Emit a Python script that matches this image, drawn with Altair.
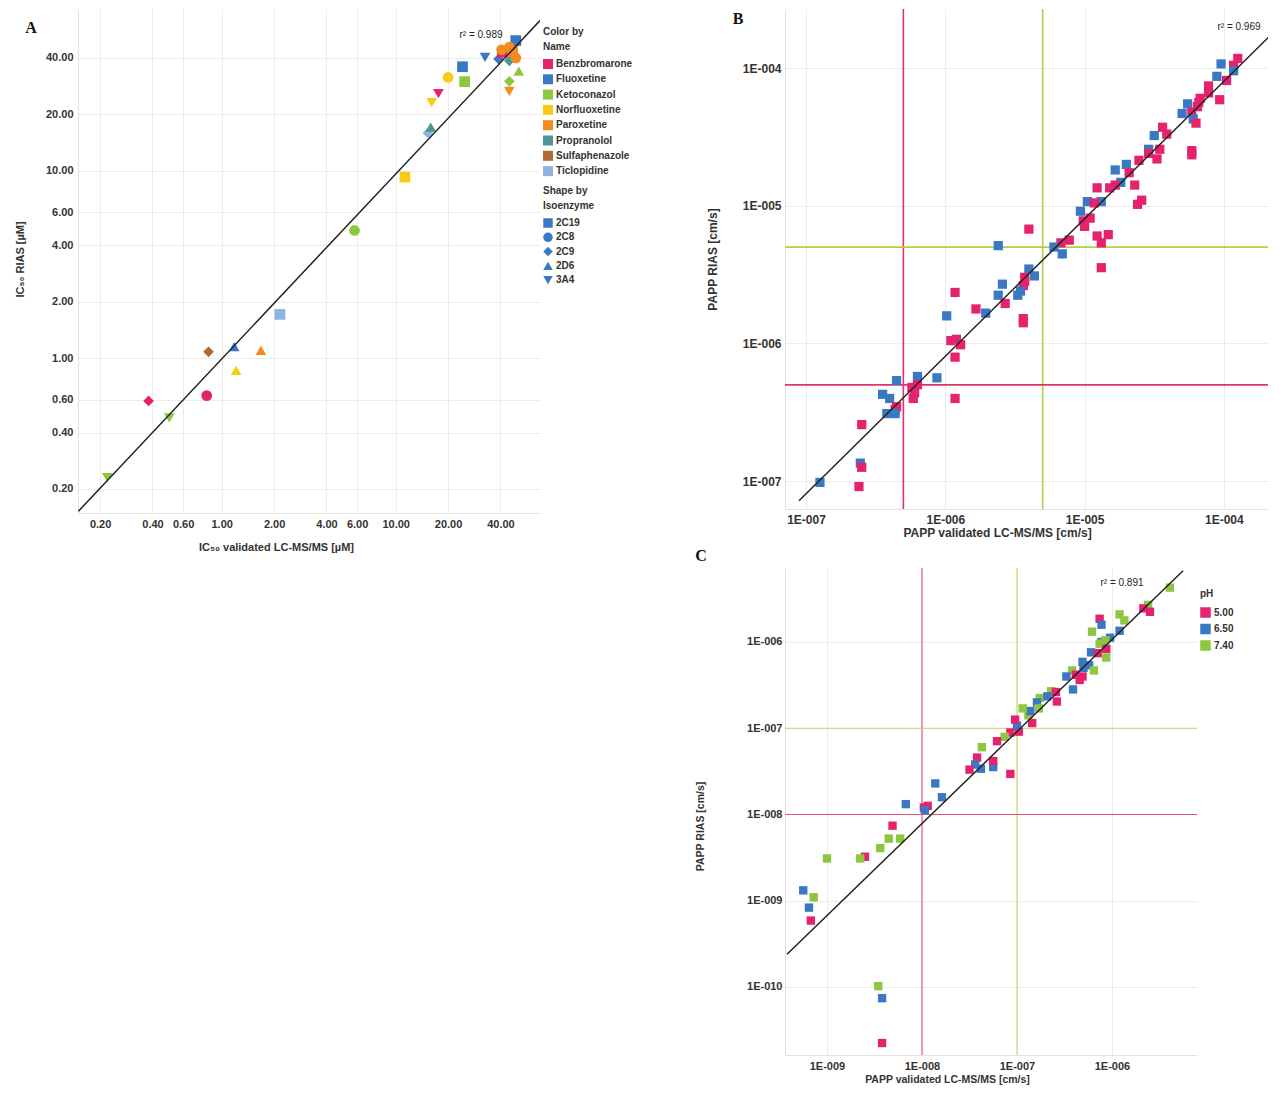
import altair as alt
import pandas as pd

FONT = "Liberation Sans"
SERIF = "Liberation Serif"
TXT = "#333333"
GRID = "#ececec"
DOMAIN_COLOR = "#e2e2e2"
PINK, BLUE, GREEN = "#e5226e", "#3a78c4", "#8dc63f"

# ---------------- Panel A : IC50 ----------------
a_names = ["Benzbromarone", "Fluoxetine", "Ketoconazol", "Norfluoxetine",
           "Paroxetine", "Propranolol", "Sulfaphenazole", "Ticlopidine"]
a_name_colors = ["#e5226e", "#3a78c4", "#8dc63f", "#f8cc16",
                 "#f58a1f", "#4e9494", "#b06a35", "#8db4e2"]
a_isoenzymes = ["2C19", "2C8", "2C9", "2D6", "3A4"]
a_iso_shapes = ["square", "circle", "diamond", "triangle-up", "triangle-down"]

a_name = ["Ketoconazol", "Benzbromarone", "Ketoconazol", "Benzbromarone", "Sulfaphenazole",
          "Fluoxetine", "Norfluoxetine", "Paroxetine", "Ticlopidine", "Ketoconazol",
          "Norfluoxetine", "Ticlopidine", "Propranolol", "Norfluoxetine", "Benzbromarone",
          "Norfluoxetine", "Fluoxetine", "Ketoconazol", "Fluoxetine", "Fluoxetine",
          "Fluoxetine", "Propranolol", "Benzbromarone", "Paroxetine", "Paroxetine",
          "Paroxetine", "Paroxetine", "Ketoconazol", "Ketoconazol", "Paroxetine"]
a_iso = ["3A4", "2C9", "3A4", "2C8", "2C9",
         "2D6", "2D6", "2D6", "2C19", "2C8",
         "2C19", "2C9", "2D6", "3A4", "3A4",
         "2C8", "2C19", "2C19", "3A4", "2C9",
         "2C19", "2C9", "2C19", "2C8", "2C8",
         "2C19", "2C8", "2D6", "2C9", "3A4"]
a_lcms = [0.22, 0.38, 0.50, 0.82, 0.84, 1.18, 1.21, 1.68, 2.16, 5.8,
          11.3, 15.3, 15.9, 16.1, 17.6, 20.0, 24.2, 24.9, 32.6, 39.0,
          49.0, 45.0, 41.0, 40.6, 45.0, 47.0, 49.0, 51.0, 45.0, 45.0]
a_rias = [0.23, 0.59, 0.48, 0.63, 1.08, 1.15, 0.86, 1.10, 1.71, 4.8,
          9.25, 15.9, 17.1, 23.1, 25.8, 31.5, 35.9, 29.9, 40.3, 39.5,
          49.5, 38.6, 42.9, 44.2, 45.7, 43.5, 40.0, 34.0, 30.0, 26.5]
a_ticks = [0.2, 0.4, 0.6, 1, 2, 4, 6, 10, 20, 40]
a_fit_lcms = [0.15, 67.5]
a_fit_rias = [0.152, 63.3]
a_r2 = "r² = 0.989"

# ---------------- Panel B : PAPP ----------------
b_log_lcms = [-3.90, -3.93, -4.02, -4.05, -3.93, -3.98, -4.11, -4.11, -4.03, -4.17,
              -4.19, -4.26, -4.30, -4.23, -4.18, -4.22, -4.20, -4.23, -4.23, -4.44,
              -4.41, -4.50, -4.54, -4.54, -4.46, -4.48, -4.61, -4.70, -4.78, -4.68,
              -4.64, -4.74, -4.78, -4.82, -4.91, -4.62, -4.59, -4.88, -4.98, -4.93,
              -5.03, -5.01, -4.96, -5.00, -4.91, -4.83, -4.88, -4.88, -5.11, -5.17,
              -5.22, -5.16, -5.62, -5.40, -5.40, -5.36, -5.43, -5.43, -5.44, -5.59,
              -5.62, -5.48, -5.46, -5.57, -5.93, -5.78, -5.71, -5.99, -5.44, -5.44,
              -5.96, -5.92, -5.89, -5.93, -5.93, -6.20, -6.06, -6.35, -6.24, -6.20,
              -6.22, -6.23, -6.45, -6.40, -6.35, -6.36, -6.42, -6.36, -6.60, -6.61,
              -6.60, -6.62, -6.90]
b_log_rias = [-3.93, -3.98, -3.97, -4.06, -4.02, -4.09, -4.13, -4.18, -4.23, -4.22,
              -4.28, -4.26, -4.33, -4.32, -4.25, -4.37, -4.40, -4.63, -4.60, -4.43,
              -4.48, -4.49, -4.59, -4.62, -4.59, -4.66, -4.67, -4.70, -4.74, -4.76,
              -4.85, -4.83, -4.85, -4.87, -4.87, -4.99, -4.96, -4.97, -4.97, -4.98,
              -5.04, -5.11, -5.09, -5.15, -5.22, -5.21, -5.27, -5.45, -5.25, -5.27,
              -5.30, -5.35, -5.29, -5.17, -5.46, -5.51, -5.52, -5.55, -5.58, -5.57,
              -5.65, -5.65, -5.62, -5.71, -5.63, -5.75, -5.78, -5.80, -5.82, -5.85,
              -5.98, -5.97, -6.01, -6.10, -6.40, -6.24, -6.25, -6.27, -6.32, -6.30,
              -6.36, -6.40, -6.37, -6.40, -6.46, -6.48, -6.51, -6.51, -6.59, -6.87,
              -6.90, -7.04, -7.01]
b_group_codes = ("ppbbbppppp" "pbbppbpppp" "pbbppppbbp" "pbpppppbbp" "bppppppppp"
                 "bbbpbbpppb" "bbbpppbbpp" "pppppbbbpp" "ppbbppbbpb" "ppb")
b_group_names = {"p": "5.00", "b": "6.50"}
b_ticks = [1e-7, 1e-6, 1e-5, 1e-4]
b_thr_pink = [5e-7]
b_thr_green = [5e-6]
b_fit_lcms = [8.9e-8, 2.5e-4]
b_fit_rias = [7.2e-8, 2.0e-4]
b_r2 = "r² = 0.969"

# ---------------- Panel C : PAPP by pH ----------------
c_log_lcms = [-5.39, -5.62, -5.67, -5.60, -5.92, -5.87, -6.13, -6.11, -6.21, -5.92,
              -6.02, -6.11, -6.13, -6.07, -6.06, -6.22, -6.15, -6.06, -6.31, -6.24,
              -6.30, -6.19, -6.42, -6.48, -6.38, -6.31, -6.34, -6.41, -6.64, -6.59,
              -6.76, -6.68, -6.58, -6.79, -6.77, -6.88, -6.86, -6.94, -6.84, -6.98,
              -7.00, -7.02, -7.07, -7.13, -7.21, -7.37, -7.42, -7.44, -7.38, -7.50,
              -7.25, -7.25, -7.07, -7.86, -7.79, -8.17, -7.98, -7.94, -7.97, -8.31,
              -8.35, -8.44, -8.23, -8.60, -8.65, -9.00, -9.25, -9.14, -9.19, -9.17,
              -8.46, -8.42, -8.42]
c_log_rias = [-5.37, -5.57, -5.61, -5.65, -5.68, -5.75, -5.73, -5.80, -5.88, -5.87,
              -5.95, -6.00, -6.02, -5.98, -6.08, -6.12, -6.13, -6.18, -6.23, -6.27,
              -6.30, -6.33, -6.33, -6.40, -6.38, -6.40, -6.44, -6.55, -6.57, -6.58,
              -6.65, -6.63, -6.69, -6.70, -6.77, -6.85, -6.80, -6.77, -6.94, -7.04,
              -6.97, -6.90, -7.05, -7.10, -7.15, -7.22, -7.34, -7.42, -7.47, -7.48,
              -7.45, -7.38, -7.53, -7.64, -7.80, -7.88, -7.92, -7.90, -7.95, -8.13,
              -8.28, -8.39, -8.28, -8.49, -8.51, -8.51, -8.88, -8.96, -9.08, -9.23,
              -9.99, -10.13, -10.65]
c_ph_codes = ("ggppggpbgb" "bbggpbpgbb" "bggbpppbgp" "gbpbggbgpp" "bppgpgpbbp"
              "bppbbbppbp" "gggpggbgbp" "gbp")
c_ph_names = {"p": "5.00", "b": "6.50", "g": "7.40"}
c_ph_levels = ["5.00", "6.50", "7.40"]
c_ph_colors = [PINK, BLUE, GREEN]
c_x_ticks = [1e-9, 1e-8, 1e-7, 1e-6]
c_y_ticks = [1e-10, 1e-9, 1e-8, 1e-7, 1e-6]
c_thr_pink = [1e-8]
c_thr_green = [1e-7]
c_fit_lcms = [3.8e-10, 5.6e-6]
c_fit_rias = [2.4e-10, 6.7e-6]
c_r2 = "r² = 0.891"

LOG_LABEL = "'1E-' + format(-round(log(datum.value) / LN10), '03d')"


def axis(title, values, lsize, tsize, tx, ty, pad=5, fmt=None, expr=None):
    kw = dict(title=title, values=values, grid=True, gridColor=GRID, gridWidth=1,
              ticks=False, domain=True, domainColor=DOMAIN_COLOR,
              labelFont=FONT, labelFontSize=lsize, labelFontWeight="bold",
              labelColor=TXT, labelPadding=pad, labelFlush=False, labelOverlap=False,
              titleFont=FONT, titleFontSize=tsize, titleFontWeight="bold",
              titleColor=TXT, titleX=tx, titleY=ty, titleBaseline="middle",
              titleAlign="center")
    if fmt:
        kw["format"] = fmt
    if expr:
        kw["labelExpr"] = expr
    return alt.Axis(**kw)


def text_layer(txt, x, y, font=FONT, size=10, weight="normal", color="#222222"):
    return alt.Chart(pd.DataFrame({"t": [txt]})).mark_text(
        font=font, fontSize=size, fontWeight=weight, color=color,
        align="center", baseline="middle").encode(
        x=alt.value(x), y=alt.value(y), text="t:N")


def vrule(vals, color, w, xenc):
    return alt.Chart(pd.DataFrame({"lcms": vals})).mark_rule(
        color=color, strokeWidth=w).encode(x=xenc)


def hrule(vals, color, w, yenc):
    return alt.Chart(pd.DataFrame({"rias": vals})).mark_rule(
        color=color, strokeWidth=w).encode(y=yenc)


def fit_layer(xs, ys, xenc, yenc):
    return alt.Chart(pd.DataFrame({"lcms": xs, "rias": ys})).mark_line(
        color="#222222", strokeWidth=1.5, clip=True).encode(x=xenc, y=yenc)


legend_common = dict(labelFont=FONT, labelFontSize=10, labelFontWeight="bold",
                     labelColor=TXT, labelOffset=3, titleFont=FONT, titleFontSize=10,
                     titleFontWeight="bold", titleColor=TXT, titleLineHeight=15,
                     symbolStrokeWidth=0, padding=0, orient="none")

# ---------- Panel A chart ----------
dfA = pd.DataFrame({"lcms": a_lcms, "rias": a_rias, "Name": a_name, "Isoenzyme": a_iso})
xA = alt.X("lcms:Q", scale=alt.Scale(type="log", domain=[0.1493, 67.5], nice=False),
           axis=axis("IC₅₀ validated LC-MS/MS [µM]", a_ticks, 11, 11, 198, 34, fmt=".2f"))
yA = alt.Y("rias:Q", scale=alt.Scale(type="log", domain=[0.1489, 73.0], nice=False),
           axis=axis("IC₅₀ RIAS [µM]", a_ticks, 11, 11, -58, 250, fmt=".2f"))

pointsA = alt.Chart(dfA).mark_point(filled=True, size=115, opacity=1, color=BLUE).encode(
    x=xA, y=yA,
    color=alt.Color("Name:N", scale=alt.Scale(domain=a_names, range=a_name_colors),
                    legend=alt.Legend(title=["Color by", "Name"], symbolType="square",
                                      symbolSize=100, rowPadding=5.3, titlePadding=7,
                                      legendX=465, legendY=18, **legend_common)),
    shape=alt.Shape("Isoenzyme:N", scale=alt.Scale(domain=a_isoenzymes, range=a_iso_shapes),
                    legend=alt.Legend(title=["Shape by", "Isoenzyme"], symbolSize=90,
                                      symbolFillColor=BLUE, rowPadding=4.3, titlePadding=7,
                                      legendX=465, legendY=177, **legend_common)),
)
panelA = alt.layer(
    pointsA,
    fit_layer(a_fit_lcms, a_fit_rias, xA, yA),
    text_layer(a_r2, 403, 26),
    text_layer("A", -47, 19, font=SERIF, size=16, weight="bold", color="#111111"),
).properties(width=462, height=504)

# ---------- Panel B chart ----------
dfB = pd.DataFrame({"lcms": [10 ** v for v in b_log_lcms],
                    "rias": [10 ** v for v in b_log_rias],
                    "grp": [b_group_names[c] for c in b_group_codes]})
xB = alt.X("lcms:Q", scale=alt.Scale(type="log", domain=[10 ** -7.151, 10 ** -3.683], nice=False),
           axis=axis("PAPP validated LC-MS/MS [cm/s]", b_ticks, 12, 12, 212, 23, expr=LOG_LABEL))
yB = alt.Y("rias:Q", scale=alt.Scale(type="log", domain=[10 ** -7.203, 10 ** -3.571], nice=False),
           axis=axis("PAPP RIAS [cm/s]", b_ticks, 12, 12, -73, 250, pad=4, expr=LOG_LABEL))
pointsB = alt.Chart(dfB).mark_square(size=85, opacity=1).encode(
    x=xB, y=yB,
    color=alt.Color("grp:N", scale=alt.Scale(domain=["5.00", "6.50"], range=[PINK, BLUE]),
                    legend=None))
panelB = alt.layer(
    vrule(b_thr_pink, "#e0336b", 1.6, xB),
    vrule(b_thr_green, "#b8cf45", 1.6, xB),
    hrule(b_thr_green, "#b8cf45", 1.6, yB),
    hrule(b_thr_pink, "#e0336b", 1.6, yB),
    pointsB,
    fit_layer(b_fit_lcms, b_fit_rias, xB, yB),
    text_layer(b_r2, 454, 18),
    text_layer("B", -47, 10, font=SERIF, size=16, weight="bold", color="#111111"),
).properties(width=483, height=500)

# ---------- Panel C chart ----------
dfC = pd.DataFrame({"lcms": [10 ** v for v in c_log_lcms],
                    "rias": [10 ** v for v in c_log_rias],
                    "pH": [c_ph_names[c] for c in c_ph_codes]})
xC = alt.X("lcms:Q", scale=alt.Scale(type="log", domain=[10 ** -9.442, 10 ** -5.105], nice=False),
           axis=axis("PAPP validated LC-MS/MS [cm/s]", c_x_ticks, 11, 10.5, 162, 24, expr=LOG_LABEL))
yC = alt.Y("rias:Q", scale=alt.Scale(type="log", domain=[10 ** -10.789, 10 ** -5.142], nice=False),
           axis=axis("PAPP RIAS [cm/s]", c_y_ticks, 11, 10.5, -85, 258, pad=3, expr=LOG_LABEL))
pointsC = alt.Chart(dfC).mark_square(size=70, opacity=1).encode(
    x=xC, y=yC,
    color=alt.Color("pH:N", scale=alt.Scale(domain=c_ph_levels, range=c_ph_colors),
                    legend=alt.Legend(title="pH", symbolType="square", symbolSize=110,
                                      rowPadding=5.5, titlePadding=8, legendX=415, legendY=21,
                                      **legend_common)))
panelC = alt.layer(
    vrule(c_thr_pink, "#e2507c", 1.1, xC),
    vrule(c_thr_green, "#cbd55e", 1.1, xC),
    hrule(c_thr_green, "#cbd55e", 1.1, yC),
    hrule(c_thr_pink, "#e2507c", 1.1, yC),
    pointsC,
    fit_layer(c_fit_lcms, c_fit_rias, xC, yC),
    text_layer(c_r2, 337, 15),
    text_layer("C", -84, -12, font=SERIF, size=16, weight="bold", color="#111111"),
).properties(width=412, height=487)

empty = alt.Chart(pd.DataFrame({"s": [0]})).mark_rule(opacity=0).encode(
    x=alt.value(0), x2=alt.value(1), y=alt.value(0.5)).properties(width=1, height=1)

chart = alt.concat(
    panelA, panelB, empty, panelC,
    columns=2, spacing={"row": 55, "column": 245}, bounds="flush",
).resolve_scale(
    color="independent", shape="independent"
).resolve_legend(
    color="independent", shape="independent"
).properties(
    padding={"left": 6, "top": 0, "right": 0, "bottom": 0},
    background="white",
).configure_view(stroke=None)

chart.save("out.html", embed_options={"renderer": "svg", "actions": False})
